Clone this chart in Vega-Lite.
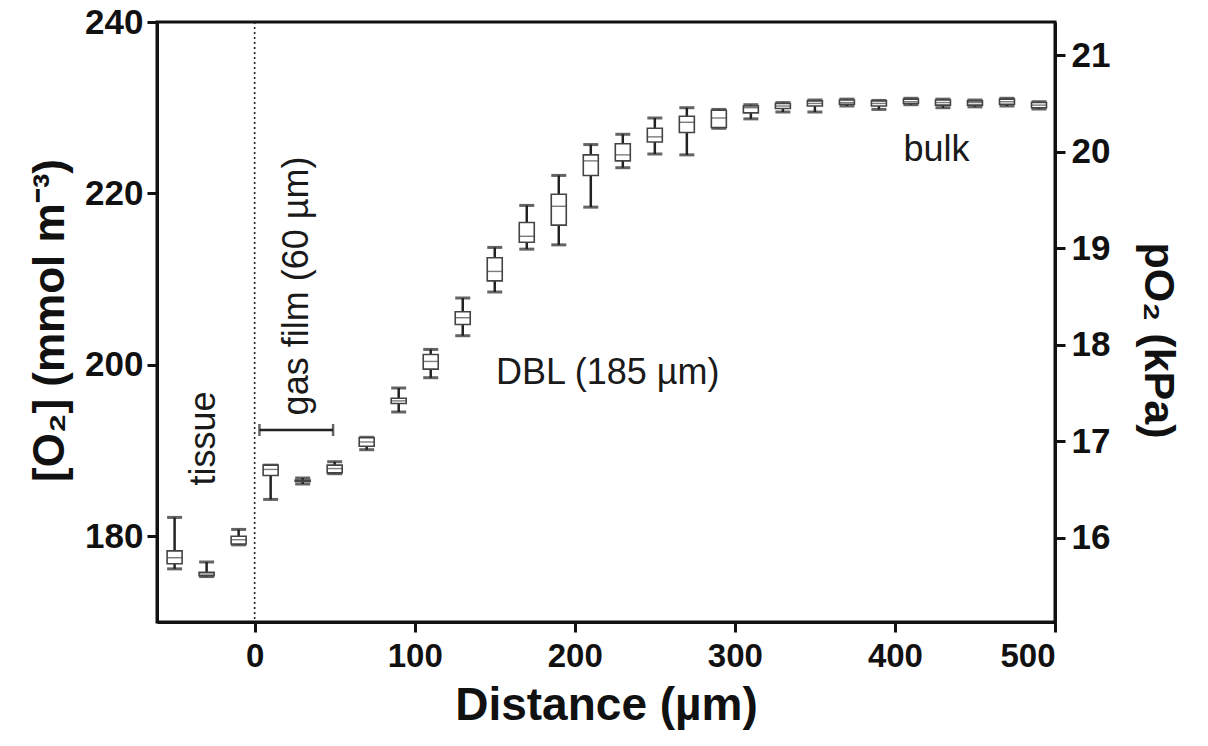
{
  "$schema": "https://vega.github.io/schema/vega-lite/v6.json",
  "autosize": "none",
  "width": 898,
  "height": 600,
  "padding": {"left": 157, "top": 22, "right": 153, "bottom": 124},
  "background": "white",
  "config": {
    "view": {"stroke": "#111", "strokeWidth": 3},
    "scale": {"continuousPadding": 0},
    "axis": {
      "grid": false,
      "domainColor": "#111",
      "domainWidth": 3,
      "tickColor": "#111",
      "tickWidth": 3,
      "tickSize": 10,
      "labelFont": "Liberation Sans, Arial, sans-serif",
      "labelFontWeight": "bold",
      "labelFontSize": 35,
      "labelColor": "#111",
      "titleFont": "Liberation Sans, Arial, sans-serif",
      "titleFontWeight": "bold",
      "titleColor": "#111"
    }
  },
  "datasets": {
    "boxes": [
      {"d": -50, "lo": 176.2, "q1": 176.8, "med": 177.5, "q3": 178.3, "hi": 182.2},
      {"d": -30, "lo": 175.3, "q1": 175.4, "med": 175.6, "q3": 175.8, "hi": 177.0},
      {"d": -10, "lo": 179.0, "q1": 179.1, "med": 179.6, "q3": 180.0, "hi": 180.8},
      {"d": 10, "lo": 184.3, "q1": 187.1, "med": 187.8, "q3": 188.3, "hi": 188.3},
      {"d": 30, "lo": 186.1, "q1": 186.4, "med": 186.5, "q3": 186.55, "hi": 186.8},
      {"d": 50, "lo": 187.3, "q1": 187.4, "med": 187.9, "q3": 188.3, "hi": 188.7},
      {"d": 70, "lo": 190.1, "q1": 190.5, "med": 191.0, "q3": 191.5, "hi": 191.55},
      {"d": 90, "lo": 194.5, "q1": 195.5, "med": 195.8, "q3": 196.1, "hi": 197.3},
      {"d": 110, "lo": 198.5, "q1": 199.5, "med": 200.4, "q3": 201.2, "hi": 201.8},
      {"d": 130, "lo": 203.4, "q1": 204.7, "med": 205.5, "q3": 206.2, "hi": 207.8},
      {"d": 150, "lo": 208.5, "q1": 209.8, "med": 210.9, "q3": 212.5, "hi": 213.7},
      {"d": 170, "lo": 213.5, "q1": 214.3, "med": 215.0, "q3": 216.6, "hi": 218.6},
      {"d": 190, "lo": 214.0, "q1": 216.3, "med": 218.5, "q3": 219.9, "hi": 222.1},
      {"d": 210, "lo": 218.4, "q1": 222.1, "med": 223.8, "q3": 224.5, "hi": 225.7},
      {"d": 230, "lo": 223.0, "q1": 223.8, "med": 224.5, "q3": 225.8, "hi": 226.9},
      {"d": 250, "lo": 224.6, "q1": 226.0, "med": 226.6, "q3": 227.6, "hi": 228.8},
      {"d": 270, "lo": 224.5, "q1": 227.1, "med": 228.3, "q3": 229.0, "hi": 230.0},
      {"d": 290, "lo": 227.6, "q1": 227.7, "med": 228.8, "q3": 229.7, "hi": 229.8},
      {"d": 310, "lo": 228.7, "q1": 229.4, "med": 230.0, "q3": 230.2, "hi": 230.35},
      {"d": 330, "lo": 229.5, "q1": 229.9, "med": 230.2, "q3": 230.5, "hi": 230.6},
      {"d": 350, "lo": 229.5, "q1": 230.2, "med": 230.5, "q3": 230.8, "hi": 230.9},
      {"d": 370, "lo": 230.2, "q1": 230.4, "med": 230.6, "q3": 230.9, "hi": 231.0},
      {"d": 390, "lo": 229.8, "q1": 230.2, "med": 230.5, "q3": 230.8, "hi": 230.85},
      {"d": 410, "lo": 230.35, "q1": 230.5, "med": 230.7, "q3": 231.0, "hi": 231.1},
      {"d": 430, "lo": 230.0, "q1": 230.3, "med": 230.6, "q3": 230.9, "hi": 231.0},
      {"d": 450, "lo": 230.1, "q1": 230.3, "med": 230.6, "q3": 230.8, "hi": 230.9},
      {"d": 470, "lo": 230.2, "q1": 230.4, "med": 230.7, "q3": 231.0, "hi": 231.1},
      {"d": 490, "lo": 229.85, "q1": 230.0, "med": 230.3, "q3": 230.6, "hi": 230.7}
    ],
    "bracket": [{"x1": 3, "x2": 49, "y": 192.4}],
    "bracketEnds": [{"x": 3, "y": 192.4}, {"x": 49, "y": 192.4}],
    "labels": [
      {"x": 220.6, "y": 199.1, "t": "DBL (185 µm)"},
      {"x": 426, "y": 225.1, "t": "bulk"}
    ],
    "vlabels": [
      {"x": -31.5, "y": 191.4, "t": "tissue"},
      {"x": 26.5, "y": 209.2, "t": "gas film (60 µm)"}
    ]
  },
  "resolve": {"scale": {"y": "independent"}, "axis": {"y": "independent"}},
  "layer": [
    {
      "layer": [
        {
          "data": {"values": [{"x": 0}]},
          "mark": {"type": "rule", "color": "#222", "strokeWidth": 1.6, "strokeDash": [2, 3]},
          "encoding": {
            "x": {
              "field": "x", "type": "quantitative",
              "scale": {"domain": [-61, 500], "nice": false, "zero": false},
              "axis": {
                "values": [0, 100, 200, 300, 400, 500],
                "title": "Distance (µm)",
                "titleFontSize": 46,
                "titlePadding": 10,
                "labelPadding": 8,
                "labelFontSize": 33
              }
            }
          }
        },
        {
          "data": {"name": "boxes"},
          "mark": {"type": "rule", "color": "#222", "strokeWidth": 2.5},
          "encoding": {
            "x": {"field": "d", "type": "quantitative"},
            "y": {
              "field": "lo", "type": "quantitative",
              "scale": {"domain": [170, 240], "nice": false, "zero": false},
              "axis": {
                "values": [180, 200, 220, 240],
                "title": "[O₂] (mmol m⁻³)",
                "titleFontSize": 44,
                "titlePadding": 12,
                "titleY": 298,
                "labelPadding": 4
              }
            },
            "y2": {"field": "hi"}
          }
        },
        {
          "data": {"name": "boxes"},
          "mark": {"type": "tick", "orient": "horizontal", "color": "#222", "size": 15, "thickness": 3},
          "encoding": {
            "x": {"field": "d", "type": "quantitative"},
            "y": {"field": "lo", "type": "quantitative"}
          }
        },
        {
          "data": {"name": "boxes"},
          "mark": {"type": "tick", "orient": "horizontal", "color": "#222", "size": 15, "thickness": 3},
          "encoding": {
            "x": {"field": "d", "type": "quantitative"},
            "y": {"field": "hi", "type": "quantitative"}
          }
        },
        {
          "data": {"name": "boxes"},
          "mark": {"type": "bar", "size": 15, "fill": "white", "stroke": "#444", "strokeWidth": 1.6},
          "encoding": {
            "x": {"field": "d", "type": "quantitative"},
            "y": {"field": "q1", "type": "quantitative"},
            "y2": {"field": "q3"}
          }
        },
        {
          "data": {"name": "boxes"},
          "mark": {"type": "tick", "orient": "horizontal", "color": "#444", "size": 15, "thickness": 1.4},
          "encoding": {
            "x": {"field": "d", "type": "quantitative"},
            "y": {"field": "med", "type": "quantitative"}
          }
        },
        {
          "data": {"name": "bracket"},
          "mark": {"type": "rule", "color": "#222", "strokeWidth": 2.5},
          "encoding": {
            "x": {"field": "x1", "type": "quantitative"},
            "x2": {"field": "x2"},
            "y": {"field": "y", "type": "quantitative"}
          }
        },
        {
          "data": {"name": "bracketEnds"},
          "mark": {"type": "tick", "orient": "vertical", "color": "#222", "size": 12, "thickness": 2.5},
          "encoding": {
            "x": {"field": "x", "type": "quantitative"},
            "y": {"field": "y", "type": "quantitative"}
          }
        },
        {
          "data": {"name": "labels"},
          "mark": {"type": "text", "font": "Liberation Sans, Arial, sans-serif", "fontSize": 36, "color": "#1a1a1a", "align": "center", "baseline": "middle"},
          "encoding": {
            "x": {"field": "x", "type": "quantitative"},
            "y": {"field": "y", "type": "quantitative"},
            "text": {"field": "t"}
          }
        },
        {
          "data": {"name": "vlabels"},
          "mark": {"type": "text", "font": "Liberation Sans, Arial, sans-serif", "fontSize": 36, "color": "#1a1a1a", "align": "center", "baseline": "middle", "angle": 270},
          "encoding": {
            "x": {"field": "x", "type": "quantitative"},
            "y": {"field": "y", "type": "quantitative"},
            "text": {"field": "t"}
          }
        }
      ]
    },
    {
      "data": {"values": [{"k": 18}]},
      "mark": {"type": "point", "opacity": 0},
      "encoding": {
        "x": {"value": 0},
        "y": {
          "field": "k", "type": "quantitative",
          "scale": {"domain": [15.13, 21.342], "nice": false, "zero": false},
          "axis": {
            "orient": "right",
            "values": [16, 17, 18, 19, 20, 21],
            "title": "pO₂ (kPa)",
            "titleFontSize": 43,
            "titleAngle": 90,
            "titlePadding": 26,
            "titleY": 318,
            "labelPadding": 6
          }
        }
      }
    }
  ]
}
